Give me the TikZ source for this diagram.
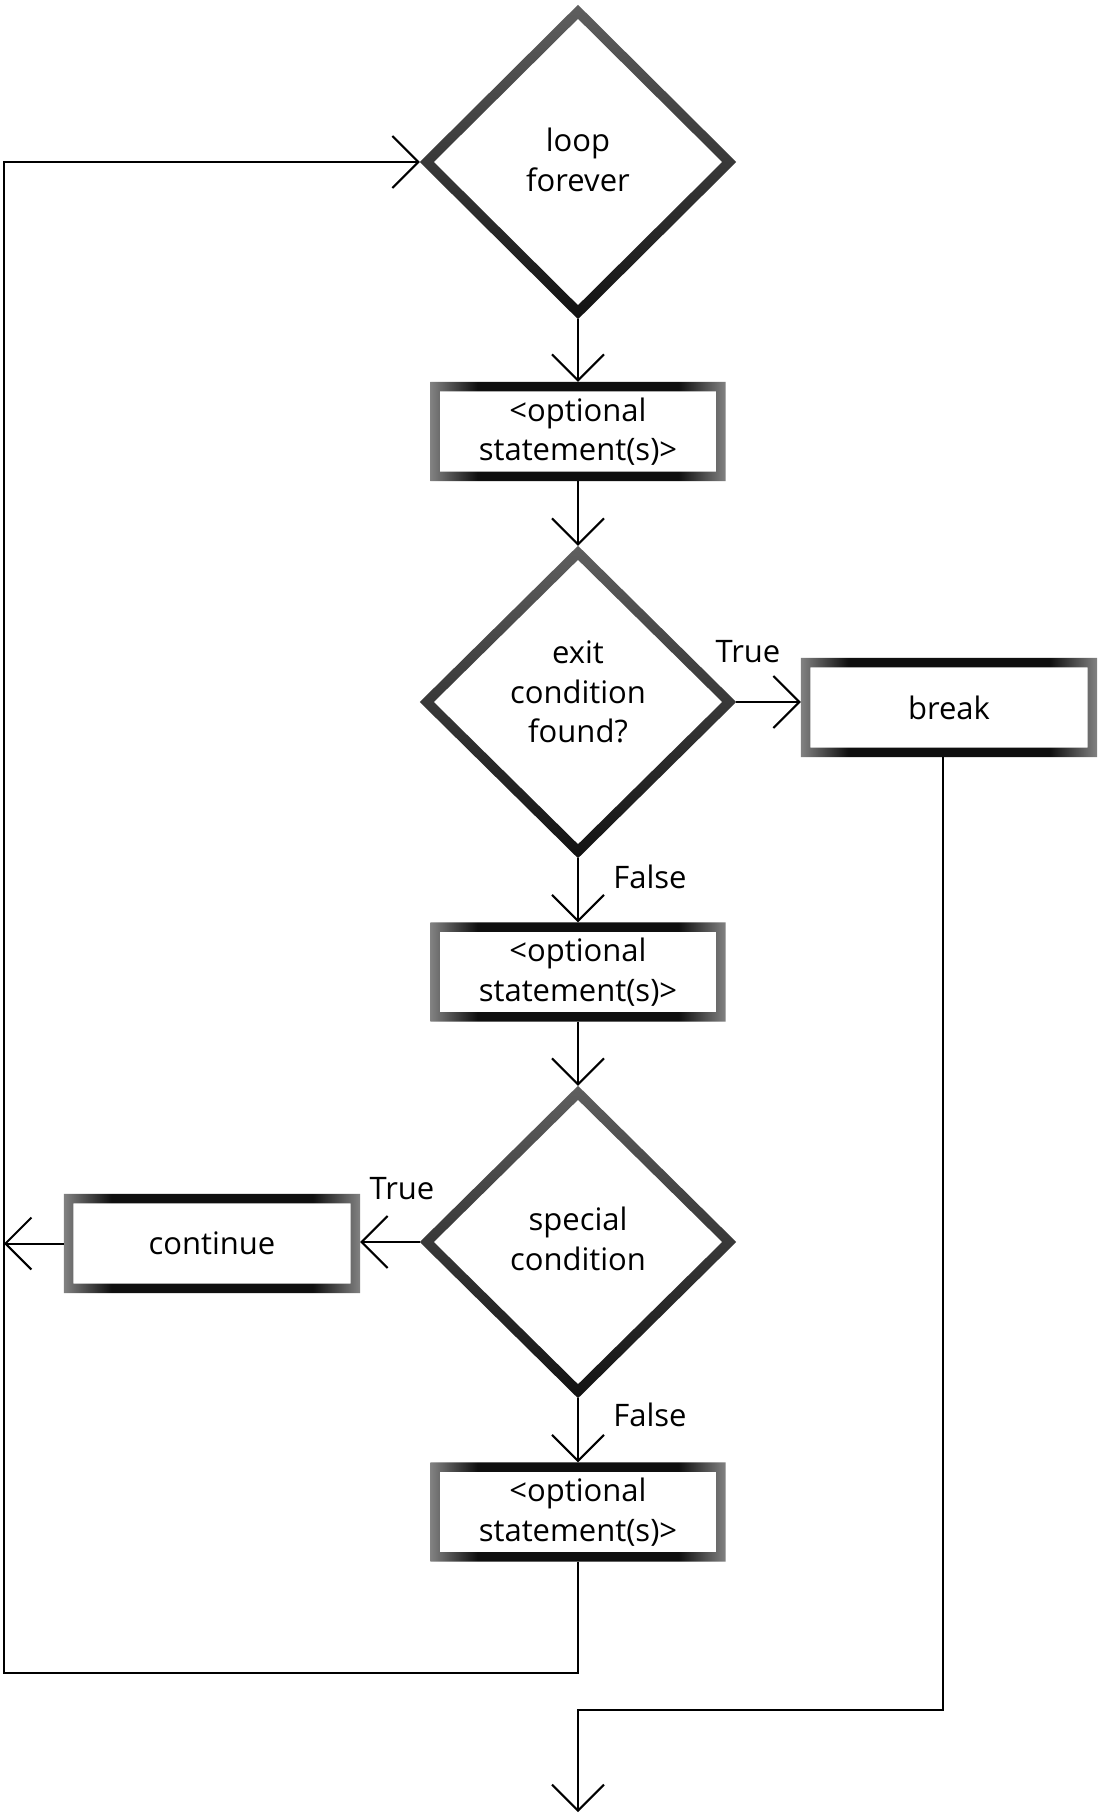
\documentclass[tikz,border=0pt]{standalone}
\usepackage{fontspec}
\setmainfont{Open Sans}
\usetikzlibrary{shapes.geometric,arrows.meta,calc}
\definecolor{dtop}{RGB}{95,95,95}
\definecolor{dbot}{RGB}{18,18,18}
\definecolor{bside}{RGB}{130,130,130}
\definecolor{bmid}{RGB}{15,15,15}
\pgfdeclarehorizontalshading{boxshade}{100bp}{color(0bp)=(bside); color(25bp)=(bside); color(33bp)=(bmid); color(67bp)=(bmid); color(75bp)=(bside); color(100bp)=(bside)}
\newcommand\DiamRing[1]{\shade[even odd rule, top color=dtop, bottom color=dbot]
  (#1.north) -- (#1.east) -- (#1.south) -- (#1.west) -- cycle
  ([yshift=-14pt]#1.north) -- ([xshift=-14pt]#1.east) -- ([yshift=14pt]#1.south) -- ([xshift=14pt]#1.west) -- cycle;}
\newcommand\BoxRing[1]{\shade[even odd rule, shading=boxshade]
  (#1.north west) rectangle (#1.south east)
  ([shift={(9.5pt,-9.5pt)}]#1.north west) rectangle ([shift={(-9.5pt,9.5pt)}]#1.south east);}
\tikzset{
  txt/.style={font=\fontsize{31}{39.5}\selectfont},
  dnode/.style={shape=diamond, minimum width=316pt, minimum height=314pt, inner sep=0pt},
  dtext/.style={txt, align=center, inner sep=0pt},
  bnode/.style={txt, rectangle, minimum width=295pt, minimum height=99pt, inner sep=0pt, align=center},
  conn/.style={line width=2pt, -{Straight Barb[length=26pt,width=52pt]}},
  lbl/.style={txt, inner sep=0pt},
}
\begin{document}
\begin{tikzpicture}[x=1pt,y=-1pt]
\fill[white] (0,0) rectangle (1100,1816);
\useasboundingbox (0,0) rectangle (1100,1816);
% shapes
\node[dnode] (d1) at (578,162) {};
\node[bnode] (b1) at (578,431.5) {<optional\\statement(s)>};
\node[dnode, minimum height=312pt] (d2) at (578,702) {};
\node[bnode, minimum width=296pt] (brk) at (949,707.5) {break};
\node[bnode] (b2) at (578,972) {<optional\\statement(s)>};
\node[dnode, minimum height=312pt] (d3) at (578,1242) {};
\node[bnode, minimum width=296pt] (cont) at (212,1243.5) {continue};
\node[bnode] (b3) at (578,1512) {<optional\\statement(s)>};
% diamond texts
\node[dtext] (d1t) at ([yshift=2pt]d1.center) {loop\\forever};
\node[dtext] (d2t) at ([yshift=10pt]d2.center) {exit\\condition\\found?};
\node[dtext] (d3t) at ([yshift=3pt]d3.center) {special\\condition};
% rings
\DiamRing{d1}
\DiamRing{d2}
\DiamRing{d3}
\BoxRing{b1}
\BoxRing{b2}
\BoxRing{b3}
\BoxRing{brk}
\BoxRing{cont}
% labels
\node[lbl] (t1) at (748,652) {True};
\node[lbl] (f1) at (650,877) {False};
\node[lbl] (t2) at (402,1189) {True};
\node[lbl] (f2) at (650,1415) {False};
% coordinates
\coordinate (lx) at (4,1243);
\coordinate (c1) at (578,1673);
\coordinate (c2) at (4,1673);
\coordinate (e1) at (943,1710);
\coordinate (e2) at (578,1710);
\coordinate (endp) at (578,1812);
% connectors
\draw[conn] (d1.south) -- (b1.north);
\draw[conn] (b1.south) -- (d2.north);
\draw[conn] (d2.east) -- (d2.east -| brk.west);
\draw[conn] (d2.south) -- (b2.north);
\draw[conn] (b2.south) -- (d3.north);
\draw[conn] (d3.west) -- (d3.west -| cont.east);
\draw[conn] (d3.south) -- (b3.north);
\draw[conn] (cont.west) -- (cont.west -| lx);
\draw[conn] (b3.south) -- (c1) -- (c2) -- (c2 |- d1.west) -- (d1.west);
\draw[conn] (brk.south -| e1) -- (e1) -- (e2) -- (endp);
\end{tikzpicture}
\end{document}
